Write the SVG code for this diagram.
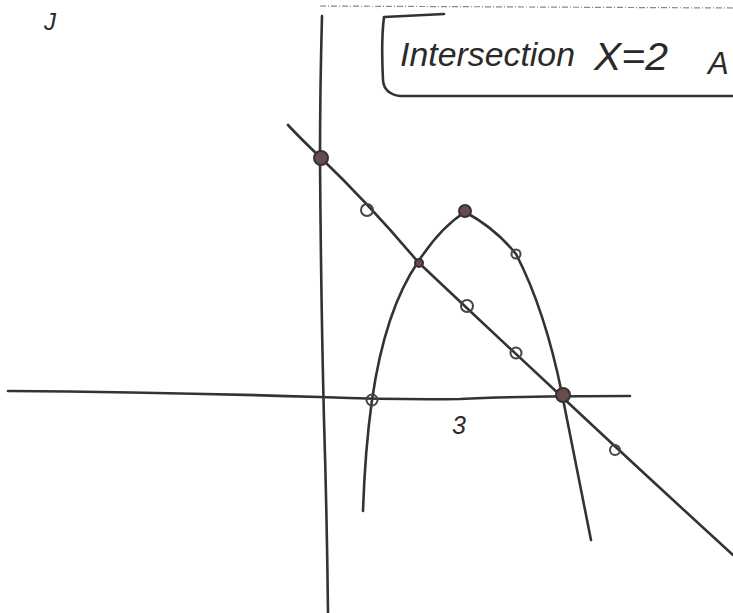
<svg xmlns="http://www.w3.org/2000/svg" width="733" height="613" viewBox="0 0 733 613">
<style>
.ink{fill:none;stroke:#333;stroke-width:2.6;stroke-linecap:round;stroke-linejoin:round}
.dot{fill:#6a4a4a;stroke:#333;stroke-width:2}
.open{fill:none;stroke:#444;stroke-width:2}
.hand{font-family:"Liberation Sans",sans-serif;fill:#2a2a2a;font-style:italic}
</style>
<rect width="733" height="613" fill="#fff"/>
<!-- page edge (dotted) -->
<path d="M320 6 L733 8" fill="none" stroke="#888" stroke-width="1.2" stroke-dasharray="6 2 1 2"/>
<!-- partial letter top-left -->
<text class="hand" x="44" y="30" font-size="24">J</text>
<!-- label box -->
<g id="label-box">
<path class="ink" d="M444 14 L384 17 Q381 40 383 80 Q384 94 400 96 L733 96" stroke-width="2.2"/>
<text class="hand" x="400" y="66" font-size="33" textLength="175" lengthAdjust="spacingAndGlyphs">Intersection</text>
<text class="hand" x="594" y="70" font-size="38" textLength="74" lengthAdjust="spacingAndGlyphs">X=2</text>
<text class="hand" x="708" y="74" font-size="31">A</text>
</g>
<!-- axes -->
<g id="axes">
<path class="ink" d="M322 16 Q320 90 320 160 Q321 300 324 420 Q327 520 328 613"/>
<path class="ink" d="M8 391 Q160 392 320 397 Q400 400 460 399 Q520 396 630 396"/>
<text class="hand" x="452" y="434" font-size="25">3</text>
</g>
<!-- straight line -->
<g id="line">
<path class="ink" d="M288 125 Q300 138 320 157 Q370 205 418 262 Q490 330 560 395 Q640 470 733 555"/>
</g>
<!-- parabola -->
<g id="parabola">
<path class="ink" d="M363 511 Q365 450 372 400 Q385 310 418 262 Q440 228 465 212 Q495 228 516 254 Q545 310 562 394 Q575 460 591 540"/>
</g>
<!-- points -->
<g id="points">
<circle class="dot" cx="321" cy="158" r="7"/>
<circle class="open" cx="367" cy="210" r="6"/>
<circle class="dot" cx="419" cy="263" r="4"/>
<circle class="open" cx="467" cy="306" r="6"/>
<circle class="open" cx="516" cy="353" r="5.5"/>
<circle class="dot" cx="465" cy="211" r="6"/>
<circle class="open" cx="516" cy="254" r="4.5"/>
<circle class="dot" cx="563" cy="395" r="7"/>
<circle class="open" cx="372" cy="400" r="5.5"/>
<circle class="open" cx="615" cy="450" r="5"/>
</g>
</svg>
